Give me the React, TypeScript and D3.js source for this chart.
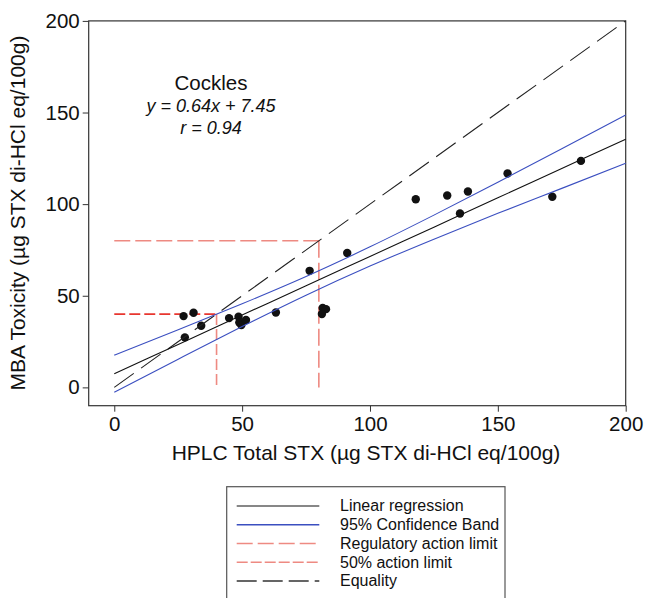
import React, { useEffect, useRef } from 'react'
import * as d3 from 'd3'

// HPLC total STX (x) vs MBA toxicity (y)
const hplcValues = [27.1, 31.0, 34.0, 27.6, 44.9, 48.6, 48.9, 49.7, 51.5, 63.2, 76.4, 91.1, 81.5, 82.8, 81.2, 117.9, 130.2, 138.3, 135.2, 153.8, 171.3, 182.5]
const mbaValues = [38.9, 40.7, 33.6, 27.3, 37.8, 38.6, 35.4, 34.0, 36.8, 40.9, 63.6, 73.3, 43.3, 42.7, 40.0, 102.7, 104.7, 106.9, 94.9, 116.7, 104.0, 123.6]

// regression y = 0.64x + 7.45 and its 95% band, read at these x positions
const bandX = [0, 25, 50, 75, 100, 125, 150, 175, 200]
const regressionY = [7.45, 23.45, 39.45, 55.45, 71.45, 87.45, 103.45, 119.45, 135.45]
const bandUpper = [17.6, 31.4, 45.6, 60.5, 76.7, 94.0, 112.0, 130.2, 148.6]
const bandLower = [-2.7, 15.4, 33.2, 50.3, 66.2, 80.9, 95.0, 108.6, 122.3]

const equalityX = [0, 200]
const regulatoryLimit = 80
const halfLimit = 40

const xTicks = [0, 50, 100, 150, 200]
const yTicks = [0, 50, 100, 150, 200]

const legendLabels = ['Linear regression', '95% Confidence Band', 'Regulatory action limit', '50% action limit', 'Equality']

const font = '"Liberation Sans", Arial, Helvetica, sans-serif'
const blue = '#3b4fc0'
const salmon = '#ee8a82'
const red = '#e8362f'

const App = () => {
  const ref = useRef<SVGSVGElement>(null)

  useEffect(() => {
    const svg = d3.select(ref.current)
    svg.selectAll('*').remove()

    const x = d3.scaleLinear().domain([-10, 200]).range([88.7, 625.7])
    const y = d3.scaleLinear().domain([-10, 200]).range([405.7, 20.9])

    const g = svg.append('g')

    // axes
    const xAxis = d3.axisBottom(x).tickValues(xTicks).tickSize(6).tickPadding(5).tickSizeOuter(0)
    const yAxis = d3.axisLeft(y).tickValues(yTicks).tickSize(6).tickPadding(3).tickSizeOuter(0)

    const gx = g.append('g').attr('transform', 'translate(0,' + y(-10) + ')').call(xAxis)
    const gy = g.append('g').attr('transform', 'translate(' + x(-10) + ',0)').call(yAxis)
    ;[gx, gy].forEach(a => {
      a.select('.domain').remove()
      a.selectAll('line').attr('stroke', '#333')
      a.selectAll('text').attr('font-family', font).attr('font-size', 20.5).attr('fill', '#111')
    })

    // frame
    g.append('rect')
      .attr('x', x(-10)).attr('y', y(200))
      .attr('width', x(200) - x(-10)).attr('height', y(-10) - y(200))
      .attr('fill', 'none').attr('stroke', '#333').attr('stroke-width', 1.2)

    // action limits
    const limitLine = (x1, y1, x2, y2, color, dash) =>
      g.append('line')
        .attr('x1', x(x1)).attr('y1', y(y1)).attr('x2', x(x2)).attr('y2', y(y2))
        .attr('stroke', color).attr('stroke-width', 1.6).attr('stroke-dasharray', dash)

    limitLine(0, regulatoryLimit, regulatoryLimit, regulatoryLimit, salmon, '16,5')
    limitLine(regulatoryLimit, regulatoryLimit, regulatoryLimit, 0, salmon, '17,5')
    limitLine(0, halfLimit, halfLimit, halfLimit, red, '11,4')
    limitLine(halfLimit, halfLimit, halfLimit, 0, salmon, '11,4')

    // points
    g.selectAll('.pt')
      .data(hplcValues.map((v, i) => [v, mbaValues[i]]))
      .enter().append('circle')
      .attr('class', 'pt')
      .attr('cx', d => x(d[0])).attr('cy', d => y(d[1]))
      .attr('r', 4.2).attr('fill', '#111')

    // equality line
    g.append('path')
      .attr('d', d3.line<number>().x(d => x(d)).y(d => y(d))(equalityX))
      .attr('fill', 'none').attr('stroke', '#222').attr('stroke-width', 1.1)
      .attr('stroke-dasharray', '24,9')

    const curve = d3.line<number>().x((d, i) => x(bandX[i])).y(d => y(d)).curve(d3.curveMonotoneX)
    ;[bandUpper, bandLower].forEach(b => {
      g.append('path').attr('d', curve(b))
        .attr('fill', 'none').attr('stroke', blue).attr('stroke-width', 1.1)
    })
    g.append('path').attr('d', curve(regressionY))
      .attr('fill', 'none').attr('stroke', '#111').attr('stroke-width', 1.1)

    // annotation
    g.append('text').attr('x', 211).attr('y', 90).attr('text-anchor', 'middle')
      .attr('font-family', font).attr('font-size', 20.5).attr('fill', '#111').text('Cockles')
    g.append('text').attr('x', 211).attr('y', 112).attr('text-anchor', 'middle')
      .attr('font-family', font).attr('font-size', 18).attr('font-style', 'italic').attr('fill', '#111')
      .text('y = 0.64x + 7.45')
    g.append('text').attr('x', 211).attr('y', 134).attr('text-anchor', 'middle')
      .attr('font-family', font).attr('font-size', 18).attr('font-style', 'italic').attr('fill', '#111')
      .text('r = 0.94')

    // axis titles
    g.append('text').attr('x', 366).attr('y', 460).attr('text-anchor', 'middle')
      .attr('font-family', font).attr('font-size', 21).attr('fill', '#111')
      .text('HPLC Total STX (µg STX di-HCl eq/100g)')
    g.append('text').attr('transform', 'translate(25,213) rotate(-90)').attr('text-anchor', 'middle')
      .attr('font-family', font).attr('font-size', 21).attr('fill', '#111')
      .text('MBA Toxicity (µg STX di-HCl eq/100g)')

    // legend
    const lg = g.append('g').attr('transform', 'translate(226.7,486.7)')
    lg.append('rect').attr('width', 278.3).attr('height', 130)
      .attr('fill', 'none').attr('stroke', '#555').attr('stroke-width', 1.2)
    const legendStyles = [
      { color: '#111', dash: null, w: 1.1 },
      { color: blue, dash: null, w: 1.4 },
      { color: salmon, dash: '16,5', w: 1.6 },
      { color: salmon, dash: '11,3', w: 1.6 },
      { color: '#333', dash: '20,6', w: 1.4 }
    ]
    legendLabels.forEach((label, i) => {
      const yy = 19.3 + i * 18.75
      lg.append('line').attr('x1', 10).attr('x2', 92.6).attr('y1', yy).attr('y2', yy)
        .attr('stroke', legendStyles[i].color).attr('stroke-width', legendStyles[i].w)
        .attr('stroke-dasharray', legendStyles[i].dash)
      lg.append('text').attr('x', 113.3).attr('y', yy + 5.5)
        .attr('font-family', font).attr('font-size', 16).attr('fill', '#111').text(label)
    })
  })

  return (
    <svg ref={ref} width={646} height={598}
      style={{ position: 'absolute', left: 0, top: 0, background: '#fff' }} />
  )
}

export default App
